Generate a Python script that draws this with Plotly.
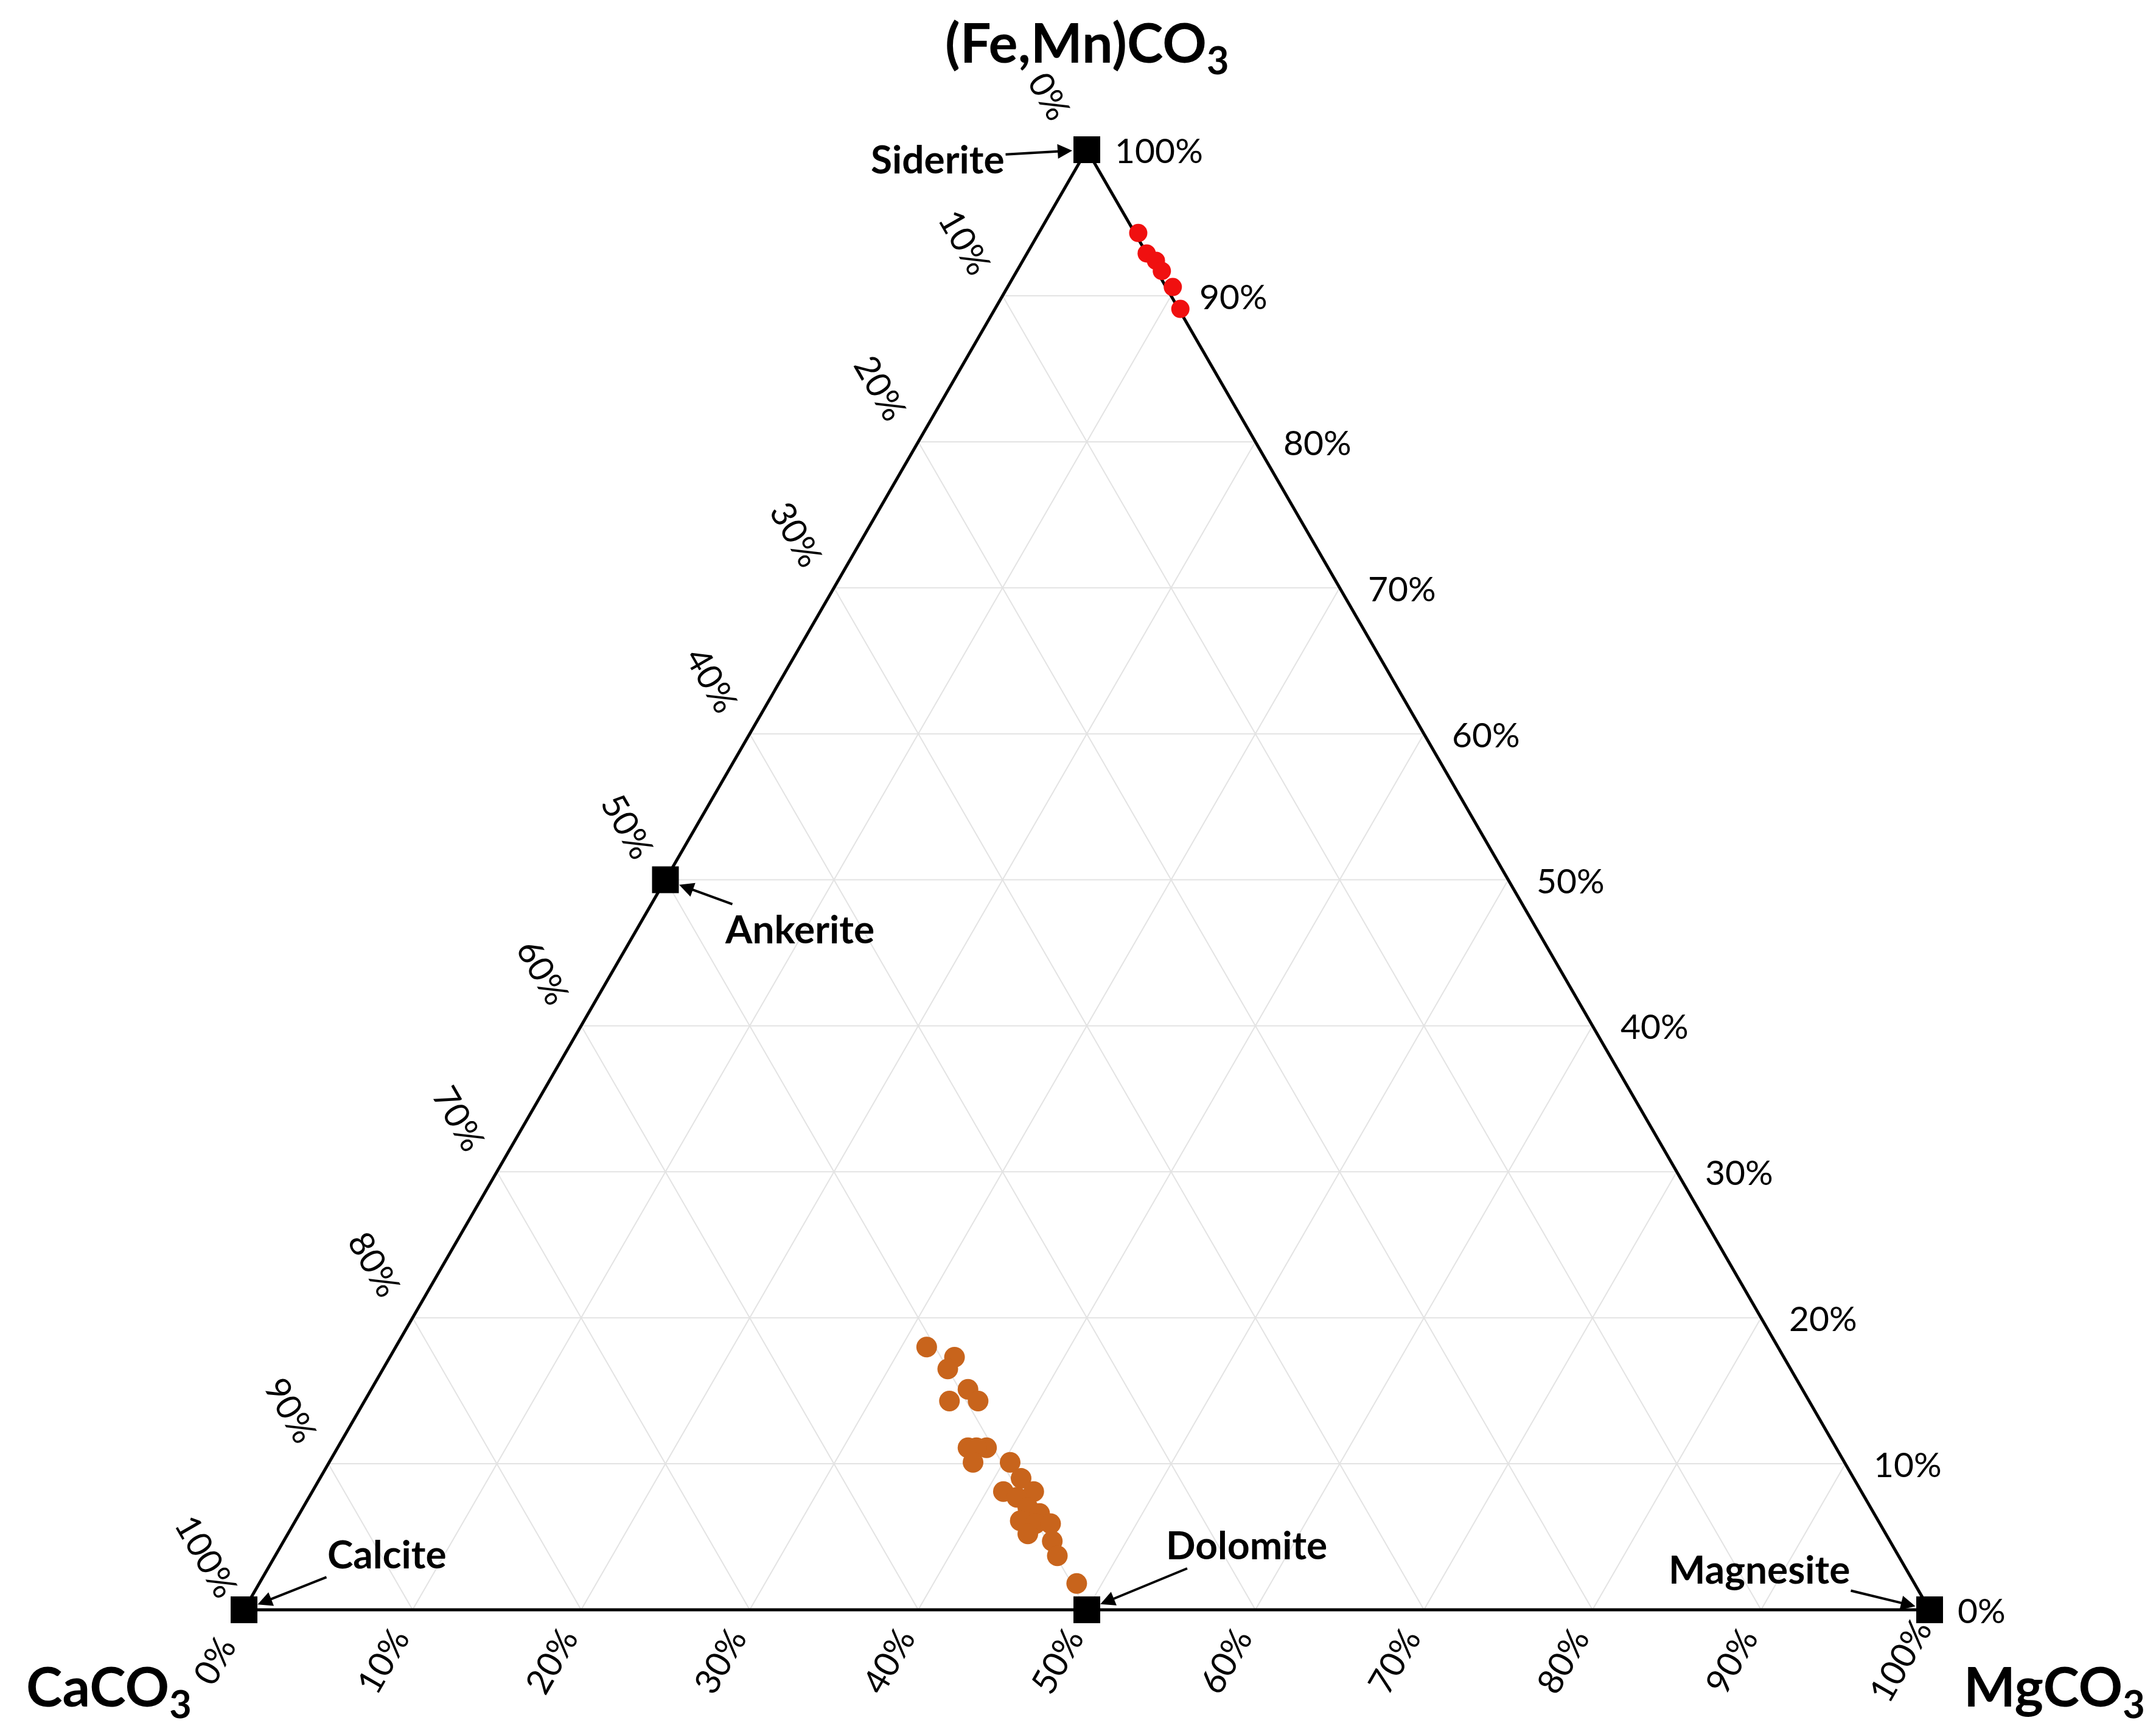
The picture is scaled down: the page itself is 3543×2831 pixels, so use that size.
import numpy as np
import plotly.graph_objects as go

# ---- data (mol %) ----
red_fe = [94.3, 92.9, 92.4, 91.7, 90.6, 89.1]
red_mg = [5.9, 7.1, 7.9, 8.6, 9.8, 11.0]

brown_fe = [18.0, 17.3, 16.5, 15.1, 14.3, 14.3, 11.1, 11.1, 11.1, 10.1, 10.1, 9.0,
            8.1, 8.1, 7.7, 7.0, 6.6, 6.1, 5.9, 5.9, 5.2, 4.7, 3.7, 1.8]
brown_mg = [31.5, 33.5, 33.5, 35.4, 36.4, 34.7, 37.4, 38.5, 37.9, 38.2, 40.4, 41.6,
            41.0, 42.8, 42.0, 43.0, 43.9, 43.0, 44.0, 44.9, 43.9, 45.6, 46.4, 48.5]

minerals = ["Siderite", "Ankerite", "Calcite", "Dolomite", "Magnesite"]
mineral_fe = [100, 50, 0, 0, 0]
mineral_mg = [0, 0, 0, 50, 100]
mineral_label_offsets = [(-245, 14), (220, 80), (235, -93), (262, -108), (-280, -68)]

tick_values = [0, 10, 20, 30, 40, 50, 60, 70, 80, 90, 100]
tick_labels = [f"{v}%" for v in tick_values]

S3 = np.sqrt(3) / 2


def xy(fe, mg):
    fe = np.asarray(fe, float) / 100
    mg = np.asarray(mg, float) / 100
    return mg + fe / 2, fe * S3


fig = go.Figure()

# grid
gx, gy = [], []
for t in tick_values[1:-1]:
    for (f1, m1, f2, m2) in [(t, 0, t, 100 - t), (0, t, 100 - t, t), (100 - t, 0, 0, 100 - t)]:
        x, y = xy([f1, f2], [m1, m2])
        gx += list(x) + [None]
        gy += list(y) + [None]
fig.add_trace(go.Scatter(x=gx, y=gy, mode="lines", line=dict(color="#e3e3e3", width=2),
                         hoverinfo="skip", showlegend=False))

# triangle edges
ex, ey = xy([100, 0, 0, 100], [0, 0, 100, 0])
fig.add_trace(go.Scatter(x=ex, y=ey, mode="lines", line=dict(color="black", width=5),
                         hoverinfo="skip", showlegend=False))

# data points
x, y = xy(brown_fe, brown_mg)
fig.add_trace(go.Scatter(x=x, y=y, mode="markers", marker=dict(color="#c8641c", size=34),
                         showlegend=False))
x, y = xy(red_fe, red_mg)
fig.add_trace(go.Scatter(x=x, y=y, mode="markers", marker=dict(color="#f01010", size=30),
                         showlegend=False))

# end members
mx, my = xy(mineral_fe, mineral_mg)
fig.add_trace(go.Scatter(x=mx, y=my, mode="markers",
                         marker=dict(color="black", size=44, symbol="square"), showlegend=False))

ann = []
F = "Lato, Open Sans, sans-serif"
for v, lab in zip(tick_values, tick_labels):
    # right edge: (Fe,Mn)CO3
    x, y = xy(v, 100 - v)
    ann.append(dict(x=float(x) + 0.016, y=float(y), text=lab, showarrow=False, xanchor="left",
                    font=dict(size=57, color="black", family=F)))
    # left edge: CaCO3
    x, y = xy(100 - v, 0)
    ann.append(dict(x=float(x) - 0.022, y=float(y) + 0.032, text=lab, showarrow=False,
                    textangle=60, font=dict(size=57, color="black", family=F)))
    # bottom edge: MgCO3
    x, y = xy(0, v)
    ann.append(dict(x=float(x) - 0.018, y=float(y) - 0.030, text=lab, showarrow=False,
                    textangle=-60, font=dict(size=57, color="black", family=F)))

for name, xx, yy, (ax, ay) in zip(minerals, mx, my, mineral_label_offsets):
    ann.append(dict(x=float(xx), y=float(yy), text=f"<b>{name}</b>", showarrow=True,
                    ax=ax, ay=ay, arrowhead=2, arrowwidth=4, arrowsize=1.2, standoff=24,
                    arrowcolor="black", font=dict(size=64, color="black", family=F)))

ann.append(dict(x=0.5, y=S3 + 0.062, text="<b>(Fe,Mn)CO<sub>3</sub></b>", showarrow=False,
                font=dict(size=90, color="black", family=F)))
ann.append(dict(x=-0.08, y=-0.047, text="<b>CaCO<sub>3</sub></b>", showarrow=False,
                font=dict(size=90, color="black", family=F)))
ann.append(dict(x=1.074, y=-0.047, text="<b>MgCO<sub>3</sub></b>", showarrow=False,
                font=dict(size=90, color="black", family=F)))

fig.update_layout(
    width=3543, height=2831, margin=dict(l=0, r=0, t=0, b=0),
    plot_bgcolor="white", paper_bgcolor="white", annotations=ann,
    xaxis=dict(range=[-393 / 2770, 3150 / 2770], visible=False, fixedrange=True),
    yaxis=dict(range=[-194 / 2770, 2637 / 2770], visible=False, fixedrange=True),
)
fig.write_html("out.html")
